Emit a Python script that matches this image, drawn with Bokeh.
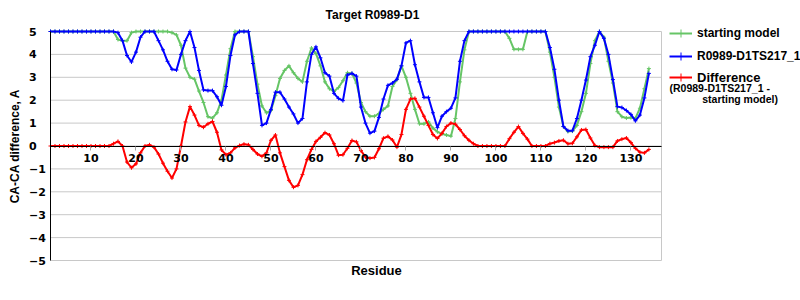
import math
from bokeh.plotting import figure
from bokeh.models import Range1d, FixedTicker, Label, Legend, LegendItem
from bokeh.core.properties import value
from bokeh.embed import file_html
from bokeh.resources import INLINE

residues = list(range(1, 135))

starting_model = [
    5, 5, 5, 5, 5, 5, 5, 5, 5, 5, 5, 5, 5, 5, 5,
    4.65, 4.6, 4.6, 4.95, 5, 5, 5, 5, 5, 5, 5, 5, 4.95, 4.85, 4.4,
    3.4, 3.0, 2.92, 2.4, 1.9, 1.28, 1.22, 1.45, 2.0, 3.1,
    4.25, 5, 5, 5, 5, 3.9, 2.7, 1.75, 1.45, 1.55,
    2.2, 2.95, 3.3, 3.5, 3.2, 2.95, 2.8, 3.7, 4.28, 4.04,
    3.5, 2.8, 2.5, 2.38, 2.55, 2.85, 3.2, 3.17, 2.75, 1.9,
    1.5, 1.3, 1.3, 1.42, 1.6, 1.75, 2.6, 2.9, 3.5, 3.0,
    2.3, 1.6, 0.97, 0.97, 1.05, 0.78, 0.62, 0.53, 0.48, 0.43,
    1.2, 2.8, 4.2, 5, 5, 5, 5, 5, 5, 5,
    5, 5, 4.7, 4.22, 4.22, 4.22, 5, 5, 5, 5,
    5, 4.1, 3.0, 1.7, 0.85, 0.63, 0.65, 0.9, 1.5, 2.3,
    3.6, 4.6, 5, 4.75, 3.7, 2.75, 1.5, 1.28, 1.22, 1.24,
    1.21, 1.65, 2.5, 3.38,
]

model_217 = [
    5, 5, 5, 5, 5, 5, 5, 5, 5, 5, 5, 5, 5, 5, 5,
    4.95, 4.6, 3.95, 3.67, 4.1, 4.75, 5, 5, 5, 4.6, 4.2, 3.7, 3.35, 3.32, 4.0,
    4.6, 5.0, 4.3, 3.3, 2.45, 2.42, 2.42, 2.15, 1.78, 2.6,
    3.95, 4.85, 5, 5, 5, 3.6, 2.3, 0.9, 1.0, 1.6,
    2.35, 2.35, 2.05, 1.7, 1.4, 1.0, 1.2, 2.8, 4.0, 4.33,
    3.85, 3.2, 3.05, 2.3, 2.08, 1.98, 3.1, 3.17, 3.05, 1.7,
    1.0, 0.56, 0.65, 1.25, 2.05, 2.65, 2.75, 2.92, 3.5, 4.5,
    4.6, 3.55, 2.8, 2.12, 2.12, 1.45, 0.8, 1.3, 1.5, 1.65,
    2.1, 3.7, 4.6, 5, 5, 5, 5, 5, 5, 5,
    5, 5, 5, 5, 5, 5, 5, 5, 5, 5,
    5, 4.3, 3.35, 2.0, 0.85, 0.67, 0.67, 1.2, 2.0, 2.88,
    3.9, 4.4, 5.0, 4.7, 4.0, 2.9, 1.72, 1.68, 1.55, 1.38,
    1.1, 1.35, 2.1, 3.17,
]

difference = [
    0, 0, 0, 0, 0, 0, 0, 0, 0, 0, 0, 0, 0, 0,
    0.1, 0.2, 0.0, -0.7, -0.95, -0.78, -0.3, 0.0, 0.05, -0.05, -0.35, -0.75,
    -1.1, -1.4, -1.0, 0.0, 1.05, 1.72, 1.35, 0.9, 0.82, 0.97, 1.07, 0.6,
    -0.17, -0.38, -0.3, -0.08, 0.02, 0.08, 0.05, -0.15, -0.35, -0.45, -0.3, 0.25,
    0.48, -0.3, -0.9, -1.5, -1.8, -1.72, -1.25, -0.6, -0.15, 0.2,
    0.38, 0.58, 0.48, 0.1, -0.4, -0.38, -0.1, 0.24, 0.18, -0.2,
    -0.48, -0.53, -0.5, -0.12, 0.34, 0.42, 0.26, -0.05, 0.5, 1.6,
    2.05, 2.08, 1.7, 1.3, 0.9, 0.5, 0.33, 0.55, 0.85, 1.0,
    0.95, 0.72, 0.45, 0.25, 0.1, 0, 0, 0, 0, 0,
    0, 0, 0.32, 0.6, 0.85, 0.55, 0.3, 0, 0, 0,
    0, 0.1, 0.15, 0.22, 0.25, 0.1, 0.12, 0.4, 0.7, 0.72,
    0.35, 0.02, -0.05, -0.05, -0.05, -0.05, 0.22, 0.3, 0.35, 0.15,
    -0.1, -0.27, -0.3, -0.15,
]

x_ticks = [10, 20, 30, 40, 50, 60, 70, 80, 90, 100, 110, 120, 130]
y_ticks = [-5, -4, -3, -2, -1, 0, 1, 2, 3, 4, 5]
y_tick_labels = ["\u22125", "\u22124", "\u22123", "\u22122", "\u22121", "0", "1", "2", "3", "4", "5"]

series_names = ["starting model", "R0989-D1TS217_1", "Difference"]
series_colors = ["#66c566", "#0000ff", "#ff0000"]
legend_note = ["(R0989-D1TS217_1 -", "starting model)"]
title_text = "Target R0989-D1"
x_label = "Residue"
y_label = "CA-CA difference, A"

FONT = "Liberation Sans"
GRID = "#c8c8c8"

# plot-area geometry (canvas pixels) -> data ranges
W, H = 800, 300
AX_L, AX_R, AX_T, AX_B = 50, 661, 31, 260
X0, X1 = 1.0, 136.8
Y0, Y1 = -5.0, 5.0
SX = (AX_R - AX_L) / (X1 - X0)
SY = (AX_B - AX_T) / (Y1 - Y0)


def dx(px):
    return X0 + (px - AX_L) / SX


def dy(py):
    return Y1 - (py - AX_T) / SY


p = figure(frame_width=W, frame_height=H, min_border=0,
           min_border_left=0, min_border_right=0, min_border_top=0, min_border_bottom=0,
           x_range=Range1d(dx(0), dx(W)), y_range=Range1d(dy(H), dy(0)),
           output_backend="svg", toolbar_location=None, tools="")
p.background_fill_color = "white"
p.border_fill_color = "white"
p.outline_line_color = None
p.xgrid.grid_line_color = None
p.ygrid.grid_line_color = None

# horizontal grid lines + right border of the plot area
p.segment(x0=X0, x1=X1, y0=y_ticks, y1=y_ticks, line_color=GRID, line_width=1)
p.segment(x0=X1, x1=X1, y0=Y0, y1=Y1, line_color=GRID, line_width=1)

# x axis on the zero line
p.xaxis.fixed_location = 0
p.xaxis.bounds = (X0, X1)
p.xaxis.ticker = FixedTicker(ticks=x_ticks)
p.xaxis.axis_line_color = "black"
p.xaxis.major_tick_line_color = "#a8a8a8"
p.xaxis.major_tick_out = 4
p.xaxis.major_tick_in = 0
p.xaxis.minor_tick_line_color = None
p.xaxis.major_label_text_font = "DejaVu Sans"
p.xaxis.major_label_text_font_style = "bold"
p.xaxis.major_label_text_font_size = "11px"
p.xaxis.major_label_text_color = "black"
p.xaxis.major_label_standoff = 4

# y axis line at the left edge of the plot area
p.yaxis.fixed_location = X0
p.yaxis.bounds = (Y0, Y1)
p.yaxis.ticker = FixedTicker(ticks=[])
p.yaxis.axis_line_color = "black"
p.yaxis.major_tick_line_color = None
p.yaxis.minor_tick_line_color = None

# y tick labels (left aligned, as in the reference)
p.text(x=[dx(28.5)] * len(y_ticks), y=y_ticks, text=y_tick_labels,
       text_align="left", text_baseline="middle",
       text_font=value("DejaVu Sans"), text_font_style="bold",
       text_font_size="11px", text_color="black")

items = []
for name, color, vals in zip(series_names, series_colors, [starting_model, model_217, difference]):
    ln = p.line(residues, vals, line_color=color, line_width=2)
    sc = p.scatter(residues, vals, marker="cross", size=4, line_color=color, line_width=1)
    items.append(LegendItem(label=name, renderers=[ln, sc]))

common = dict(padding=0, margin=0, spacing=3, label_height=20, glyph_height=20,
              glyph_width=23, label_standoff=5, border_line_color=None,
              background_fill_alpha=0, label_text_font=FONT,
              label_text_font_style="bold", label_text_color="black")
p.add_layout(Legend(items=items[:2], location=(669, H - 66.3),
                    label_text_font_size="12px", **common), "center")
p.add_layout(Legend(items=items[2:], location=(669, H - 87),
                    label_text_font_size="13px", **common), "center")

txt = dict(text_font=FONT, text_font_style="bold", text_color="black", text_baseline="middle")
p.add_layout(Label(x=dx(669), y=dy(87), text=legend_note[0], text_align="left",
                   text_font_size="10.5px", **txt))
p.add_layout(Label(x=dx(701.7), y=dy(98), text=legend_note[1], text_align="left",
                   text_font_size="10.5px", **txt))
p.add_layout(Label(x=dx(372), y=dy(14), text=title_text, text_align="center",
                   text_font_size="12px", **txt))
p.add_layout(Label(x=dx(376), y=dy(270), text=x_label, text_align="center",
                   text_font_size="13px", **txt))
p.add_layout(Label(x=dx(14.5), y=dy((AX_T + AX_B) / 2), text=y_label, text_align="center",
                   angle=math.pi / 2, text_font_size="12px", **txt))

open("out.html", "w").write(file_html(p, INLINE))
